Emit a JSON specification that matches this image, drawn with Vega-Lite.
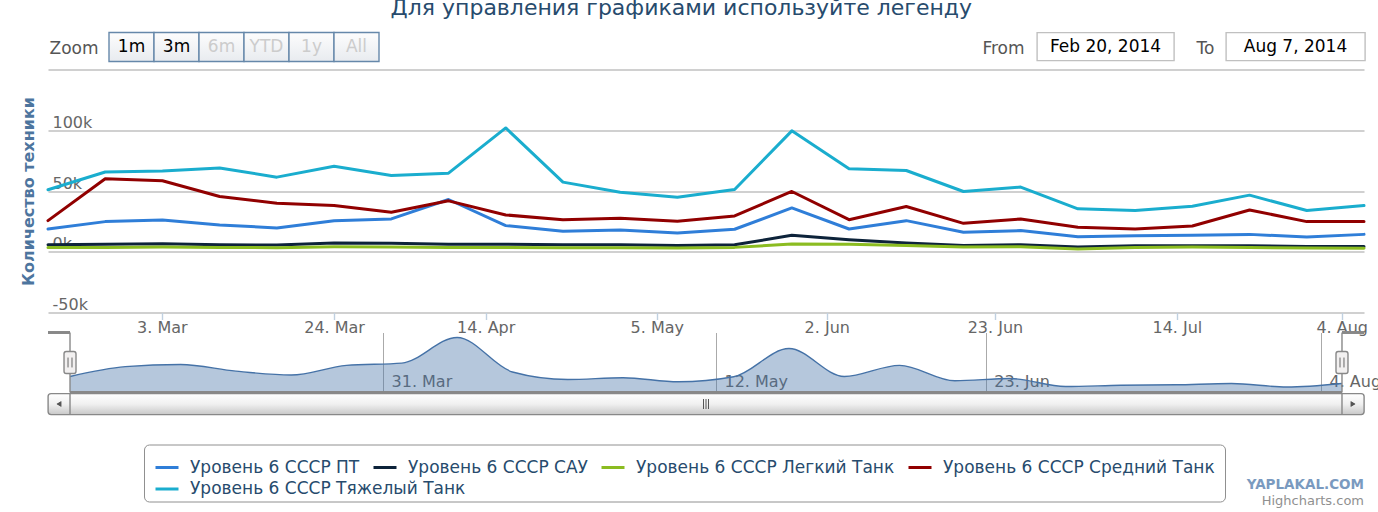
{
  "$schema": "https://vega.github.io/schema/vega-lite/v6.json",
  "background": "white",
  "padding": {"left": 19, "top": -3.5, "right": 0, "bottom": 0},
  "title": {
    "text": "Для управления графиками используйте легенду",
    "fontSize": 22,
    "fontWeight": "normal",
    "color": "#274b6d",
    "anchor": "middle",
    "dx": -19,
    "offset": 11.5
  },
  "config": {
    "font": "DejaVu Sans",
    "view": {"stroke": null}
  },
  "datasets": {
    "tanks": [
      {"n": 0, "series": "Уровень 6 СССР ПТ", "v": 18700},
      {"n": 1, "series": "Уровень 6 СССР ПТ", "v": 24800},
      {"n": 2, "series": "Уровень 6 СССР ПТ", "v": 26200},
      {"n": 3, "series": "Уровень 6 СССР ПТ", "v": 22000},
      {"n": 4, "series": "Уровень 6 СССР ПТ", "v": 19600},
      {"n": 5, "series": "Уровень 6 СССР ПТ", "v": 25600},
      {"n": 6, "series": "Уровень 6 СССР ПТ", "v": 27000},
      {"n": 7, "series": "Уровень 6 СССР ПТ", "v": 43000},
      {"n": 8, "series": "Уровень 6 СССР ПТ", "v": 21500},
      {"n": 9, "series": "Уровень 6 СССР ПТ", "v": 16800},
      {"n": 10, "series": "Уровень 6 СССР ПТ", "v": 17900},
      {"n": 11, "series": "Уровень 6 СССР ПТ", "v": 15400},
      {"n": 12, "series": "Уровень 6 СССР ПТ", "v": 18500},
      {"n": 13, "series": "Уровень 6 СССР ПТ", "v": 36100},
      {"n": 14, "series": "Уровень 6 СССР ПТ", "v": 18700},
      {"n": 15, "series": "Уровень 6 СССР ПТ", "v": 25600},
      {"n": 16, "series": "Уровень 6 СССР ПТ", "v": 16000},
      {"n": 17, "series": "Уровень 6 СССР ПТ", "v": 17400},
      {"n": 18, "series": "Уровень 6 СССР ПТ", "v": 12400},
      {"n": 19, "series": "Уровень 6 СССР ПТ", "v": 13200},
      {"n": 20, "series": "Уровень 6 СССР ПТ", "v": 13500},
      {"n": 21, "series": "Уровень 6 СССР ПТ", "v": 14300},
      {"n": 22, "series": "Уровень 6 СССР ПТ", "v": 12100},
      {"n": 23, "series": "Уровень 6 СССР ПТ", "v": 14300},
      {"n": 0, "series": "Уровень 6 СССР САУ", "v": 5800},
      {"n": 1, "series": "Уровень 6 СССР САУ", "v": 6100},
      {"n": 2, "series": "Уровень 6 СССР САУ", "v": 6600},
      {"n": 3, "series": "Уровень 6 СССР САУ", "v": 5800},
      {"n": 4, "series": "Уровень 6 СССР САУ", "v": 5500},
      {"n": 5, "series": "Уровень 6 СССР САУ", "v": 7200},
      {"n": 6, "series": "Уровень 6 СССР САУ", "v": 6900},
      {"n": 7, "series": "Уровень 6 СССР САУ", "v": 6100},
      {"n": 8, "series": "Уровень 6 СССР САУ", "v": 6100},
      {"n": 9, "series": "Уровень 6 СССР САУ", "v": 5800},
      {"n": 10, "series": "Уровень 6 СССР САУ", "v": 5800},
      {"n": 11, "series": "Уровень 6 СССР САУ", "v": 5200},
      {"n": 12, "series": "Уровень 6 СССР САУ", "v": 5800},
      {"n": 13, "series": "Уровень 6 СССР САУ", "v": 13500},
      {"n": 14, "series": "Уровень 6 СССР САУ", "v": 9900},
      {"n": 15, "series": "Уровень 6 СССР САУ", "v": 7200},
      {"n": 16, "series": "Уровень 6 СССР САУ", "v": 5200},
      {"n": 17, "series": "Уровень 6 СССР САУ", "v": 5800},
      {"n": 18, "series": "Уровень 6 СССР САУ", "v": 3900},
      {"n": 19, "series": "Уровень 6 СССР САУ", "v": 5000},
      {"n": 20, "series": "Уровень 6 СССР САУ", "v": 5000},
      {"n": 21, "series": "Уровень 6 СССР САУ", "v": 5000},
      {"n": 22, "series": "Уровень 6 СССР САУ", "v": 4400},
      {"n": 23, "series": "Уровень 6 СССР САУ", "v": 4400},
      {"n": 0, "series": "Уровень 6 СССР Легкий Танк", "v": 3600},
      {"n": 1, "series": "Уровень 6 СССР Легкий Танк", "v": 3600},
      {"n": 2, "series": "Уровень 6 СССР Легкий Танк", "v": 3900},
      {"n": 3, "series": "Уровень 6 СССР Легкий Танк", "v": 3600},
      {"n": 4, "series": "Уровень 6 СССР Легкий Танк", "v": 3300},
      {"n": 5, "series": "Уровень 6 СССР Легкий Танк", "v": 4100},
      {"n": 6, "series": "Уровень 6 СССР Легкий Танк", "v": 3900},
      {"n": 7, "series": "Уровень 6 СССР Легкий Танк", "v": 3600},
      {"n": 8, "series": "Уровень 6 СССР Легкий Танк", "v": 3600},
      {"n": 9, "series": "Уровень 6 СССР Легкий Танк", "v": 3300},
      {"n": 10, "series": "Уровень 6 СССР Легкий Танк", "v": 3300},
      {"n": 11, "series": "Уровень 6 СССР Легкий Танк", "v": 3000},
      {"n": 12, "series": "Уровень 6 СССР Легкий Танк", "v": 3600},
      {"n": 13, "series": "Уровень 6 СССР Легкий Танк", "v": 6300},
      {"n": 14, "series": "Уровень 6 СССР Легкий Танк", "v": 6100},
      {"n": 15, "series": "Уровень 6 СССР Легкий Танк", "v": 5200},
      {"n": 16, "series": "Уровень 6 СССР Легкий Танк", "v": 3900},
      {"n": 17, "series": "Уровень 6 СССР Легкий Танк", "v": 4100},
      {"n": 18, "series": "Уровень 6 СССР Легкий Танк", "v": 2200},
      {"n": 19, "series": "Уровень 6 СССР Легкий Танк", "v": 3600},
      {"n": 20, "series": "Уровень 6 СССР Легкий Танк", "v": 3900},
      {"n": 21, "series": "Уровень 6 СССР Легкий Танк", "v": 3600},
      {"n": 22, "series": "Уровень 6 СССР Легкий Танк", "v": 3000},
      {"n": 23, "series": "Уровень 6 СССР Легкий Танк", "v": 2800},
      {"n": 0, "series": "Уровень 6 СССР Средний Танк", "v": 25600},
      {"n": 1, "series": "Уровень 6 СССР Средний Танк", "v": 60100},
      {"n": 2, "series": "Уровень 6 СССР Средний Танк", "v": 58400},
      {"n": 3, "series": "Уровень 6 СССР Средний Танк", "v": 45500},
      {"n": 4, "series": "Уровень 6 СССР Средний Танк", "v": 39900},
      {"n": 5, "series": "Уровень 6 СССР Средний Танк", "v": 38000},
      {"n": 6, "series": "Уровень 6 СССР Средний Танк", "v": 32500},
      {"n": 7, "series": "Уровень 6 СССР Средний Танк", "v": 41900},
      {"n": 8, "series": "Уровень 6 СССР Средний Танк", "v": 30300},
      {"n": 9, "series": "Уровень 6 СССР Средний Танк", "v": 26400},
      {"n": 10, "series": "Уровень 6 СССР Средний Танк", "v": 27600},
      {"n": 11, "series": "Уровень 6 СССР Средний Танк", "v": 25100},
      {"n": 12, "series": "Уровень 6 СССР Средний Танк", "v": 29500},
      {"n": 13, "series": "Уровень 6 СССР Средний Танк", "v": 49600},
      {"n": 14, "series": "Уровень 6 СССР Средний Танк", "v": 26400},
      {"n": 15, "series": "Уровень 6 СССР Средний Танк", "v": 37200},
      {"n": 16, "series": "Уровень 6 СССР Средний Танк", "v": 23400},
      {"n": 17, "series": "Уровень 6 СССР Средний Танк", "v": 27000},
      {"n": 18, "series": "Уровень 6 СССР Средний Танк", "v": 20100},
      {"n": 19, "series": "Уровень 6 СССР Средний Танк", "v": 18700},
      {"n": 20, "series": "Уровень 6 СССР Средний Танк", "v": 21200},
      {"n": 21, "series": "Уровень 6 СССР Средний Танк", "v": 34400},
      {"n": 22, "series": "Уровень 6 СССР Средний Танк", "v": 24800},
      {"n": 23, "series": "Уровень 6 СССР Средний Танк", "v": 24800},
      {"n": 0, "series": "Уровень 6 СССР Тяжелый Танк", "v": 51000},
      {"n": 1, "series": "Уровень 6 СССР Тяжелый Танк", "v": 65600},
      {"n": 2, "series": "Уровень 6 СССР Тяжелый Танк", "v": 66400},
      {"n": 3, "series": "Уровень 6 СССР Тяжелый Танк", "v": 68900},
      {"n": 4, "series": "Уровень 6 СССР Тяжелый Танк", "v": 61400},
      {"n": 5, "series": "Уровень 6 СССР Тяжелый Танк", "v": 70300},
      {"n": 6, "series": "Уровень 6 СССР Тяжелый Танк", "v": 62800},
      {"n": 7, "series": "Уровень 6 СССР Тяжелый Танк", "v": 64700},
      {"n": 8, "series": "Уровень 6 СССР Тяжелый Танк", "v": 101900},
      {"n": 9, "series": "Уровень 6 СССР Тяжелый Танк", "v": 57300},
      {"n": 10, "series": "Уровень 6 СССР Тяжелый Танк", "v": 49000},
      {"n": 11, "series": "Уровень 6 СССР Тяжелый Танк", "v": 44900},
      {"n": 12, "series": "Уровень 6 СССР Тяжелый Танк", "v": 51200},
      {"n": 13, "series": "Уровень 6 СССР Тяжелый Танк", "v": 99500},
      {"n": 14, "series": "Уровень 6 СССР Тяжелый Танк", "v": 68300},
      {"n": 15, "series": "Уровень 6 СССР Тяжелый Танк", "v": 66900},
      {"n": 16, "series": "Уровень 6 СССР Тяжелый Танк", "v": 49600},
      {"n": 17, "series": "Уровень 6 СССР Тяжелый Танк", "v": 53200},
      {"n": 18, "series": "Уровень 6 СССР Тяжелый Танк", "v": 35300},
      {"n": 19, "series": "Уровень 6 СССР Тяжелый Танк", "v": 33900},
      {"n": 20, "series": "Уровень 6 СССР Тяжелый Танк", "v": 37500},
      {"n": 21, "series": "Уровень 6 СССР Тяжелый Танк", "v": 46600},
      {"n": 22, "series": "Уровень 6 СССР Тяжелый Танк", "v": 33900},
      {"n": 23, "series": "Уровень 6 СССР Тяжелый Танк", "v": 38000}
    ]
  },
  "bounds": "flush",
  "spacing": 0,
  "vconcat": [
    {
      "bounds": "flush",
      "spacing": 0,
      "hconcat": [
        {"width": 61, "height": 29, "data": {"values": []}, "mark": "point"},
        {
          "width": 270,
          "height": 29,
          "data": {"values": [
            {"b": "1m", "on": true},
            {"b": "3m", "on": true},
            {"b": "6m", "on": false},
            {"b": "YTD", "on": false},
            {"b": "1y", "on": false},
            {"b": "All", "on": false}
          ]},
          "encoding": {
            "x": {"field": "b", "type": "nominal", "sort": null, "scale": {"paddingInner": 0, "paddingOuter": 0}, "axis": null},
            "y": {
              "datum": "Zoom", "type": "nominal",
              "scale": {"paddingInner": 0, "paddingOuter": 0},
              "axis": {"title": null, "domain": false, "ticks": false, "labelFontSize": 17, "labelColor": "#555555", "labelPadding": 11, "labelOffset": 2}
            }
          },
          "layer": [
            {"mark": {"type": "rect", "stroke": "#6688aa", "strokeWidth": 1.4,
              "fill": {"gradient": "linear", "x1": 0, "y1": 0, "x2": 0, "y2": 1,
                "stops": [{"offset": 0, "color": "#fdfdfd"}, {"offset": 1, "color": "#e8ebef"}]}}},
            {"mark": {"type": "text", "fontSize": 17},
              "encoding": {
                "text": {"field": "b"},
                "color": {"condition": {"test": "datum.on", "value": "#000000"}, "value": "#cccccc"}
              }}
          ]
        },
        {"width": 658, "height": 29, "data": {"values": []}, "mark": "point"},
        {
          "width": 137,
          "height": 28,
          "view": {"stroke": "#c0c0c0", "strokeWidth": 1.4, "fill": "#ffffff"},
          "data": {"values": [{"d": "Feb 20, 2014"}]},
          "mark": {"type": "text", "fontSize": 17, "color": "#000000"},
          "encoding": {
            "text": {"field": "d"},
            "y": {"datum": "From", "type": "nominal",
              "axis": {"title": null, "domain": false, "ticks": false, "labelFontSize": 17, "labelColor": "#555555", "labelPadding": 13, "labelOffset": 2}}
          }
        },
        {"width": 52, "height": 29, "data": {"values": []}, "mark": "point"},
        {
          "width": 139,
          "height": 28,
          "view": {"stroke": "#c0c0c0", "strokeWidth": 1.4, "fill": "#ffffff"},
          "data": {"values": [{"d": "Aug 7, 2014"}]},
          "mark": {"type": "text", "fontSize": 17, "color": "#000000"},
          "encoding": {
            "text": {"field": "d"},
            "y": {"datum": "To", "type": "nominal",
              "axis": {"title": null, "domain": false, "ticks": false, "labelFontSize": 17, "labelColor": "#555555", "labelPadding": 12, "labelOffset": 2}}
          }
        }
      ]
    },
    {"width": 1316, "height": 37, "data": {"values": []}, "mark": "point"},
    {
      "width": 1316,
      "height": 243,
      "data": {"name": "tanks"},
      "encoding": {
        "x": {
          "field": "n", "type": "quantitative",
          "scale": {"domain": [0, 23], "nice": false, "zero": false},
          "axis": {
            "title": null,
            "values": [1.99, 5.0, 7.65, 10.64, 13.61, 16.55, 19.73, 22.61],
            "labelExpr": "datum.value < 3 ? '3. Mar' : datum.value < 6 ? '24. Mar' : datum.value < 9 ? '14. Apr' : datum.value < 12 ? '5. May' : datum.value < 15 ? '2. Jun' : datum.value < 18 ? '23. Jun' : datum.value < 21 ? '14. Jul' : '4. Aug'",
            "grid": false, "domain": false,
            "ticks": true, "tickColor": "#c0d0e0", "tickSize": 7, "tickWidth": 1.4,
            "labelFontSize": 16, "labelColor": "#666666",
            "labelBaseline": "alphabetic", "labelPadding": 13,
            "labelFlush": false, "labelOverlap": false
          }
        },
        "y": {
          "field": "v", "type": "quantitative",
          "scale": {"domain": [-50000, 150000], "nice": false},
          "axis": {
            "title": "Количество техники",
            "values": [-50000, 0, 50000, 100000, 150000],
            "labelExpr": "datum.value == 150000 ? '' : (datum.value / 1000) + 'k'",
            "grid": true, "gridColor": "#c0c0c0", "gridWidth": 1.4,
            "domain": false, "ticks": false,
            "labelAlign": "left", "labelBaseline": "alphabetic",
            "labelPadding": -4, "labelOffset": -3,
            "labelFontSize": 16, "labelColor": "#666666",
            "labelOverlap": false,
            "titleFontSize": 16, "titleFontWeight": "bold", "titleColor": "#4d759e",
            "titleX": -20, "titleY": 121.5, "titleAngle": 270,
            "titleAlign": "center", "titleBaseline": "middle"
          }
        }
      },
      "layer": [
        {
          "transform": [{"filter": "datum.series !== 'Уровень 6 СССР Тяжелый Танк'"}],
          "mark": {"type": "line", "strokeWidth": 3, "strokeJoin": "round", "strokeCap": "round"},
          "encoding": {
            "color": {
              "field": "series", "type": "nominal",
              "scale": {
                "domain": ["Уровень 6 СССР ПТ", "Уровень 6 СССР САУ", "Уровень 6 СССР Легкий Танк", "Уровень 6 СССР Средний Танк"],
                "range": ["#2f7ed8", "#0d233a", "#8bbc21", "#910000"]
              },
              "legend": {
                "title": "\u00a0", "titleOrient": "bottom", "titleFontSize": 14, "titlePadding": 2,
                "orient": "none", "legendX": 96, "legendY": 412, "zindex": -1,
                "direction": "horizontal",
                "symbolType": "stroke", "symbolSize": 529, "symbolStrokeWidth": 3,
                "labelFontSize": 17, "labelColor": "#274b6d", "labelLimit": 500,
                "labelOffset": 10, "columnPadding": 7,
                "padding": 10, "strokeColor": "#909090", "cornerRadius": 5, "fillColor": "#ffffff"
              }
            }
          }
        },
        {
          "transform": [{"filter": "datum.series === 'Уровень 6 СССР Тяжелый Танк'"}],
          "mark": {"type": "line", "strokeWidth": 3, "strokeJoin": "round", "strokeCap": "round"},
          "encoding": {
            "stroke": {
              "field": "series", "type": "nominal",
              "scale": {"domain": ["Уровень 6 СССР Тяжелый Танк"], "range": ["#1aadce"]},
              "legend": {
                "title": null,
                "orient": "none", "legendX": 106, "legendY": 443.5, "zindex": 1,
                "direction": "horizontal",
                "symbolType": "stroke", "symbolSize": 529, "symbolStrokeWidth": 3,
                "labelFontSize": 17, "labelColor": "#274b6d", "labelLimit": 500,
                "labelOffset": 10, "padding": 0
              }
            }
          }
        }
      ]
    },
    {"width": 1316, "height": 20, "data": {"values": []}, "mark": "point"},
    {
      "width": 1316,
      "height": 60,
      "data": {"name": "tanks"},
      "transform": [{"filter": "datum.series === 'Уровень 6 СССР ПТ'"}],
      "layer": [
        {
          "mark": {"type": "area", "interpolate": "monotone", "fill": "#4572a7", "fillOpacity": 0.4},
          "encoding": {
            "x": {
              "field": "n", "type": "quantitative",
              "scale": {"domain": [-0.398, 23.398], "nice": false, "zero": false},
              "axis": {
                "title": null, "orient": "bottom",
                "values": [5.66, 11.68, 16.56, 22.62],
                "labelExpr": "datum.value < 8 ? '31. Mar' : datum.value < 14 ? '12. May' : datum.value < 20 ? '23. Jun' : '4. Aug'",
                "grid": true, "gridColor": "#aaaaaa", "gridWidth": 1,
                "domain": false, "ticks": false, "tickSize": 0,
                "labelAlign": "left", "labelBaseline": "alphabetic",
                "labelPadding": -6, "labelOffset": 8,
                "labelFontSize": 16, "labelColor": "#666666",
                "labelFlush": false, "labelOverlap": false
              }
            },
            "y": {
              "field": "v", "type": "quantitative",
              "scale": {"domain": [8700, 46100], "nice": false, "zero": false},
              "axis": null
            },
            "y2": {"datum": 8700}
          }
        },
        {
          "mark": {"type": "line", "interpolate": "monotone", "color": "#4572a7", "strokeWidth": 1.4},
          "encoding": {
            "x": {"field": "n", "type": "quantitative"},
            "y": {"field": "v", "type": "quantitative"}
          }
        },
        {
          "mark": {"type": "rule", "color": "#888888", "strokeWidth": 1.4},
          "encoding": {"x": {"datum": -0.398}, "x2": {"datum": 0}, "y": {"datum": 46100}}
        },
        {
          "mark": {"type": "rule", "color": "#888888", "strokeWidth": 1.4},
          "encoding": {"x": {"datum": 23}, "x2": {"datum": 23.398}, "y": {"datum": 46100}}
        },
        {
          "mark": {"type": "rule", "color": "#888888", "strokeWidth": 1.4},
          "encoding": {"x": {"datum": 0}, "x2": {"datum": 23}, "y": {"datum": 8700}}
        },
        {
          "transform": [
            {"aggregate": [{"op": "min", "field": "n", "as": "lo"}, {"op": "max", "field": "n", "as": "hi"}]},
            {"fold": ["lo", "hi"], "as": ["end", "edge"]}
          ],
          "layer": [
            {
              "mark": {"type": "rule", "color": "#888888", "strokeWidth": 1.4},
              "encoding": {"x": {"field": "edge", "type": "quantitative"}}
            },
            {
              "mark": {"type": "point", "filled": true, "opacity": 1,
                "shape": "M-0.545,-0.8 Q-0.545,-1 -0.345,-1 L0.345,-1 Q0.545,-1 0.545,-0.8 L0.545,0.8 Q0.545,1 0.345,1 L-0.345,1 Q-0.545,1 -0.545,0.8 Z",
                "size": 484, "fill": "#f2f0f0", "stroke": "#888888", "strokeWidth": 1.4},
              "encoding": {"x": {"field": "edge", "type": "quantitative"}, "y": {"datum": 27400}}
            },
            {
              "mark": {"type": "point", "filled": false, "opacity": 1,
                "shape": "M-0.18,-0.45 L-0.18,0.45 M0.18,-0.45 L0.18,0.45",
                "size": 484, "color": "#666666", "strokeWidth": 1},
              "encoding": {"x": {"field": "edge", "type": "quantitative"}, "y": {"datum": 27400}}
            }
          ]
        }
      ]
    },
    {"width": 1316, "height": 1, "data": {"values": []}, "mark": "point"},
    {
      "width": 1316,
      "height": 21,
      "view": {
        "fill": {"gradient": "linear", "x1": 0, "y1": 0, "x2": 0, "y2": 1,
          "stops": [{"offset": 0, "color": "#ffffff"}, {"offset": 0.5, "color": "#f0f0f0"}, {"offset": 1, "color": "#c8c8c8"}]},
        "stroke": "#888888", "strokeWidth": 1.4, "cornerRadius": 3
      },
      "title": {
        "text": "YAPLAKAL.COM",
        "subtitle": "Highcharts.com",
        "orient": "bottom", "anchor": "end",
        "fontSize": 13.5, "fontWeight": 900, "color": "#7a9ac0",
        "subtitleFontSize": 13, "subtitleColor": "#909090", "subtitlePadding": 3,
        "offset": 63
      },
      "data": {"name": "tanks"},
      "transform": [
        {"filter": "datum.series === 'Уровень 6 СССР ПТ'"},
        {"aggregate": [{"op": "min", "field": "n", "as": "lo"}, {"op": "max", "field": "n", "as": "hi"}]},
        {"fold": ["lo", "hi"], "as": ["end", "edge"]}
      ],
      "layer": [
        {
          "mark": {"type": "rule", "color": "#888888", "strokeWidth": 1.4},
          "encoding": {
            "x": {"field": "edge", "type": "quantitative", "scale": {"domain": [-0.398, 23.398], "nice": false, "zero": false}, "axis": null}
          }
        },
        {
          "mark": {"type": "point", "shape": "triangle-left", "size": 28, "filled": true, "color": "#555555", "opacity": 1},
          "encoding": {"x": {"datum": -0.2}}
        },
        {
          "mark": {"type": "point", "shape": "triangle-right", "size": 28, "filled": true, "color": "#555555", "opacity": 1},
          "encoding": {"x": {"datum": 23.2}}
        },
        {
          "mark": {"type": "point", "shape": "M-0.5,-1 L-0.5,1 M0,-1 L0,1 M0.5,-1 L0.5,1", "size": 100, "filled": false, "color": "#555555", "strokeWidth": 1, "opacity": 1},
          "encoding": {"x": {"aggregate": "mean", "field": "edge", "type": "quantitative"}}
        }
      ]
    }
  ]
}
